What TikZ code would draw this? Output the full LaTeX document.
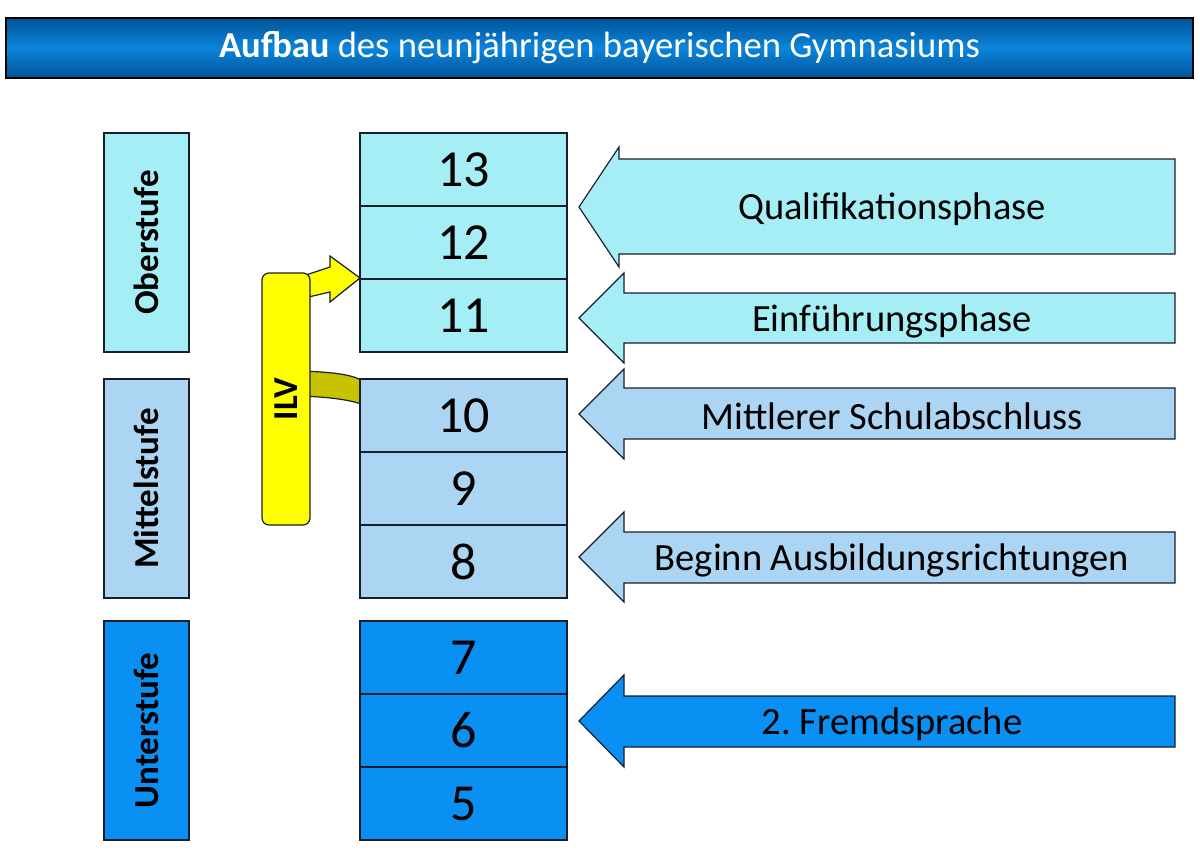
\documentclass[tikz,border=0pt]{standalone}
\usepackage{fontspec}
\setmainfont{Carlito}
\usepackage{tikz}
\frenchspacing
\definecolor{oberblue}{RGB}{166,238,246}
\definecolor{mittelblue}{RGB}{171,213,242}
\definecolor{unterblue}{RGB}{10,143,242}
\definecolor{ilvyellow}{RGB}{255,255,0}
\definecolor{ilvolive}{RGB}{200,195,0}
\definecolor{edgecol}{RGB}{25,30,45}
\definecolor{titledark}{RGB}{0,84,152}
\definecolor{titlemid}{RGB}{12,132,218}

\begin{document}
\begin{tikzpicture}[x=1pt,y=-1pt,
    every node/.style={inner sep=0pt},
    edge/.style={draw=edgecol, line width=1.2pt},
    stufe/.style={edge, minimum width=219pt, minimum height=85pt, rotate=90,
        font=\fontsize{35}{38}\selectfont\bfseries},
    klasse/.style={edge, minimum width=207pt, minimum height=73pt,
        font=\fontsize{52}{58}\selectfont},
    phase/.style={edge, line join=miter},
    phasetext/.style={font=\fontsize{38.5}{42}\selectfont}]
    \useasboundingbox (0,0) rectangle (1200,857);
    \node[draw=black, line width=1.2pt, top color=titledark, bottom color=titledark,
        middle color=titlemid, minimum width=1187pt, minimum height=60pt,
        text=white, font=\fontsize{36.6}{40}\selectfont] (titel) at (599.5,48)
        {\textbf{Aufbau} des neunjährigen bayerischen Gymnasiums};
    \draw[edge, fill=ilvolive] (300,371) .. controls (335,372) and (352,375) .. (361,380)
        -- (361,404) .. controls (350,400) and (330,397) .. (300,396) -- cycle;
    \draw[edge, fill=ilvyellow] (300,277) -- (330,267) -- (330,256) -- (360,278)
        -- (330,302) -- (330,292) -- (300,299) -- cycle;
    \node[edge, fill=ilvyellow, rounded corners=7pt, minimum width=252pt, minimum height=48pt,
        rotate=90, font=\fontsize{35}{38}\selectfont\bfseries] (ilv) at (286,399) {ILV};
    \foreach \n/\y/\col in {13/169.5/oberblue, 12/242.5/oberblue, 11/315.5/oberblue,
        10/415.5/mittelblue, 9/488.5/mittelblue, 8/561.5/mittelblue,
        7/657.5/unterblue, 6/730.5/unterblue, 5/803.5/unterblue}
        \node[klasse, fill=\col] (g\n) at (463.5,\y) {\n};
    \node[stufe, fill=oberblue] (ober) at (146.5,242.5) {Oberstufe};
    \node[stufe, fill=mittelblue] (mittel) at (146.5,488.5) {Mittelstufe};
    \node[stufe, fill=unterblue] (unter) at (146.5,730.5) {Unterstufe};
    \foreach \name/\ytop/\ybot/\hx/\htop/\hbot/\col/\txt in {
        quali/159/254/619/147/267/oberblue/Qualifikationsphase,
        einf/293/343/624/273/363/oberblue/Einführungsphase,
        msa/388/439/624/369/459/mittelblue/Mittlerer Schulabschluss,
        ausb/532/583/624/512/602/mittelblue/Beginn Ausbildungsrichtungen,
        fremd/696/747/624/675/767/unterblue/2. Fremdsprache}
    {
        \draw[phase, fill=\col] (1175,\ytop) -- (\hx,\ytop) -- (\hx,\htop)
            -- (579,{(\htop+\hbot)/2}) -- (\hx,\hbot) -- (\hx,\ybot) -- (1175,\ybot) -- cycle;
        \node[phasetext] (\name) at (892,{(\ytop+\ybot)/2+3}) {\txt};
    }
\end{tikzpicture}
\end{document}
